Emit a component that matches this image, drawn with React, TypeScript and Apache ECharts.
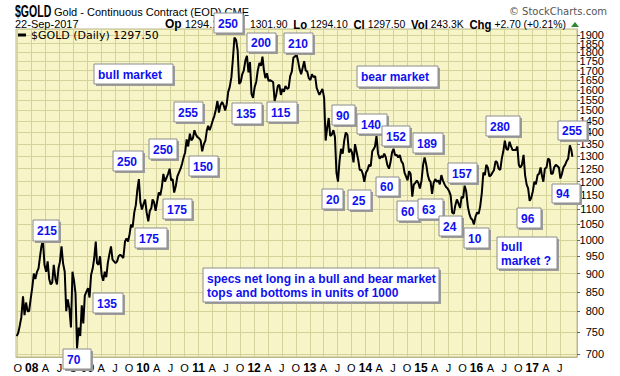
import { useEffect, useRef } from "react";
import * as echarts from "echarts";

// ---- DATA (gold continuous contract, sampled on the 5th, 15th and 25th of each month) ----
const SLOT_DAYS = [5, 15, 25];
const gold2007 = [740, 748, 765, 785, 838, 790, 822, 800, 800, 830]; // from Sep 25
const gold2008 = [862, 900, 885, 905, 915, 950, 980, 1000, 925, 905, 935, 885, 870, 875, 925, 885, 870, 915, 935, 980, 930, 905, 800, 830, 805, 760, 905, 880, 845, 712, 760, 740, 815, 770, 840, 850];
const gold2009 = [860, 835, 895, 915, 945, 995, 930, 925, 950, 895, 880, 905, 890, 930, 955, 980, 940, 935, 930, 935, 950, 955, 950, 945, 995, 1005, 995, 1018, 1050, 1040, 1090, 1115, 1170, 1210, 1125, 1100];
const gold2010 = [1120, 1135, 1090, 1060, 1095, 1105, 1135, 1125, 1095, 1130, 1160, 1150, 1180, 1230, 1200, 1215, 1230, 1250, 1205, 1210, 1160, 1185, 1220, 1235, 1250, 1270, 1295, 1315, 1370, 1340, 1395, 1365, 1375, 1410, 1390, 1380];
const gold2011 = [1375, 1365, 1320, 1350, 1365, 1410, 1430, 1410, 1430, 1455, 1475, 1505, 1545, 1490, 1525, 1540, 1525, 1500, 1530, 1590, 1615, 1665, 1765, 1885, 1870, 1810, 1630, 1640, 1680, 1700, 1755, 1780, 1690, 1745, 1580, 1560];
const gold2012 = [1615, 1640, 1700, 1740, 1725, 1775, 1705, 1660, 1685, 1645, 1650, 1645, 1640, 1545, 1575, 1620, 1625, 1575, 1605, 1590, 1620, 1605, 1610, 1670, 1695, 1770, 1775, 1790, 1755, 1710, 1680, 1715, 1750, 1700, 1695, 1660];
const gold2013 = [1650, 1680, 1665, 1670, 1610, 1590, 1575, 1590, 1605, 1560, 1365, 1420, 1465, 1385, 1390, 1410, 1380, 1235, 1200, 1280, 1330, 1310, 1365, 1400, 1390, 1315, 1330, 1315, 1275, 1350, 1315, 1285, 1245, 1245, 1230, 1200];
const gold2014 = [1235, 1245, 1265, 1260, 1320, 1330, 1340, 1385, 1310, 1290, 1300, 1295, 1310, 1295, 1265, 1250, 1275, 1315, 1330, 1305, 1305, 1295, 1305, 1280, 1270, 1235, 1220, 1205, 1240, 1230, 1145, 1190, 1195, 1205, 1195, 1175];
const gold2015 = [1205, 1265, 1295, 1265, 1225, 1205, 1200, 1155, 1195, 1210, 1200, 1205, 1190, 1225, 1205, 1190, 1180, 1175, 1165, 1150, 1090, 1085, 1115, 1135, 1120, 1105, 1145, 1140, 1185, 1165, 1110, 1085, 1070, 1065, 1050, 1075];
const gold2016 = [1090, 1085, 1110, 1160, 1235, 1225, 1265, 1255, 1220, 1225, 1235, 1245, 1280, 1275, 1250, 1245, 1290, 1320, 1365, 1330, 1325, 1360, 1340, 1325, 1325, 1325, 1340, 1265, 1255, 1265, 1305, 1225, 1190, 1175, 1130, 1140];
const gold2017 = [1165, 1200, 1190, 1225, 1230, 1255, 1225, 1200, 1250, 1255, 1290, 1285, 1230, 1230, 1255, 1265, 1260, 1255, 1212, 1230, 1255, 1265, 1280, 1290, 1345, 1325, 1297.5];
const lastDay = 22; // last close: 22-Sep-2017

const Y_MIN = 693;
const Y_MAX = 1936;
const yTickValues = [700, 750, 800, 850, 900, 950, 1000, 1050, 1100, 1150, 1200, 1250, 1300, 1350, 1400, 1450, 1500, 1550, 1600, 1650, 1700, 1750, 1800, 1850, 1900];
const monthLetters: Record<number, string> = { 3: "A", 6: "J", 9: "O" };

const annotations: [string, number, number, number, number][] = [
  ["250", 214, 13, 29, 20],
  ["200", 247, 33, 29, 19],
  ["210", 284, 33, 29, 20],
  ["bull market", 94, 64, 79, 20],
  ["255", 174, 102, 29, 20],
  ["135", 232, 103, 30, 21],
  ["115", 267, 102, 30, 20],
  ["250", 149, 139, 28, 20],
  ["250", 113, 151, 30, 20],
  ["150", 189, 156, 29, 20],
  ["bear market", 357, 66, 81, 21],
  ["90", 332, 105, 23, 20],
  ["140", 357, 114, 30, 20],
  ["152", 382, 126, 28, 20],
  ["189", 413, 133, 30, 20],
  ["280", 486, 116, 34, 20],
  ["255", 558, 121, 29, 19],
  ["157", 448, 163, 29, 20],
  ["60", 376, 177, 23, 19],
  ["20", 322, 189, 21, 20],
  ["25", 348, 190, 23, 20],
  ["60", 397, 201, 22, 20],
  ["63", 418, 199, 25, 20],
  ["24", 439, 216, 23, 20],
  ["10", 464, 228, 25, 20],
  ["96", 517, 208, 24, 20],
  ["94", 552, 184, 28, 19],
  ["bull\nmarket ?", 497, 237, 60, 32],
  ["specs net long in a bull and bear market\ntops and bottoms in units of 1000", 203, 268, 236, 34],
  ["215", 33, 220, 26, 21],
  ["175", 163, 199, 29, 20],
  ["175", 135, 228, 32, 20],
  ["135", 93, 293, 30, 20],
  ["70", 63, 349, 28, 20],
];

const quoteLeft = "{b|Op} 1294.10 {b|Hi}";
const quoteRight = "1301.90  {b|Lo} 1294.10  {b|Cl} 1297.50  {b|Vol} 243.3K  {b|Chg} +2.70 (+0.21%)";

const segments: [number, number, number, number[]][] = [
  [2007, 8, 2, gold2007],
  [2008, 0, 0, gold2008],
  [2009, 0, 0, gold2009],
  [2010, 0, 0, gold2010],
  [2011, 0, 0, gold2011],
  [2012, 0, 0, gold2012],
  [2013, 0, 0, gold2013],
  [2014, 0, 0, gold2014],
  [2015, 0, 0, gold2015],
  [2016, 0, 0, gold2016],
  [2017, 0, 0, gold2017],
];

function buildPoints(): [number, number][] {
  const pts: [number, number][] = [];
  for (const [year, m0, s0, arr] of segments) {
    let m = m0;
    let s = s0;
    for (const v of arr) {
      pts.push([Date.UTC(year, m, SLOT_DAYS[s]), v]);
      s++;
      if (s === 3) {
        s = 0;
        m++;
      }
    }
  }
  const last = pts[pts.length - 1];
  const d = new Date(last[0]);
  last[0] = Date.UTC(d.getUTCFullYear(), d.getUTCMonth(), lastDay);
  return pts;
}

function quarterTicks(): number[] {
  const out: number[] = [];
  let y = 2007;
  let m = 9;
  while (y < 2017 || (y === 2017 && m <= 6)) {
    out.push(Date.UTC(y, m, 1));
    m += 3;
    if (m >= 12) {
      m -= 12;
      y++;
    }
  }
  return out;
}

const FONT = '"Liberation Sans", Arial, sans-serif';
const BLUE = "#1010f0";

function annotationBox(a: [string, number, number, number, number]) {
  const [text, x, y, w, h] = a;
  return {
    type: "group",
    x,
    y,
    z: 100,
    children: [
      { type: "rect", shape: { x: 2, y: 2, width: w, height: h }, style: { fill: "#9c9c9c" }, z: 100 },
      { type: "rect", shape: { x: 0, y: 0, width: w, height: h }, style: { fill: "#ffffff", stroke: "#8c8c8c", lineWidth: 1 }, z: 101 },
      {
        type: "text",
        x: 4,
        y: h / 2 + 0.5,
        z: 102,
        style: { text, fill: BLUE, font: `bold 12px ${FONT}`, verticalAlign: "middle", align: "left", lineHeight: 14 },
      },
    ],
  };
}

export default function App() {
  const ref = useRef<HTMLDivElement>(null);
  useEffect(() => {
    if (!ref.current) return;
    const chart = echarts.init(ref.current, null, { renderer: "svg" });
    const points = buildPoints();
    const qt = quarterTicks();
    const gridColor = "#d5d39c";
    const quoteRich = { b: { fontWeight: "bold", fontSize: 12, fontFamily: FONT, fill: "#000" } };
    // an extra, unlabeled value at the axis max so that the min/max-label overlap rule never hides 1850/1900
    const yCustom = [...yTickValues, Y_MAX];
    chart.setOption({
      animation: false,
      backgroundColor: "#ffffff",
      grid: {
        left: 16,
        right: 43,
        top: 29,
        bottom: 19,
        show: true,
        backgroundColor: "#f7f5c8",
        borderColor: "#b9b78c",
        borderWidth: 1,
      },
      xAxis: {
        type: "value",
        min: Date.UTC(2007, 8, 20),
        max: Date.UTC(2017, 9, 22),
        axisLine: { show: true, lineStyle: { color: "#b9b78c" } },
        axisTick: { show: false, customValues: qt },
        axisLabel: {
          customValues: qt,
          margin: 5,
          formatter: (v: number) => {
            const d = new Date(v);
            const m = d.getUTCMonth();
            if (m === 0) return "{yr|" + String(d.getUTCFullYear() % 100).padStart(2, "0") + "}";
            return "{mo|" + monthLetters[m] + "}";
          },
          rich: {
            yr: { fontWeight: "bold", fontSize: 12, fontFamily: FONT, color: "#000" },
            mo: { fontSize: 11, fontFamily: FONT, color: "#000" },
          },
        },
        splitLine: { show: true, lineStyle: { color: gridColor, width: 1 } },
      },
      yAxis: {
        type: "log",
        logBase: 10,
        min: Y_MIN,
        max: Y_MAX,
        position: "right",
        axisLine: { show: true, lineStyle: { color: "#b9b78c" } },
        axisTick: { show: true, length: 3, inside: false, customValues: yCustom, lineStyle: { color: "#666" } },
        axisLabel: {
          customValues: yCustom,
          showMinLabel: true,
          showMaxLabel: false,
          hideOverlap: false,
          align: "right",
          margin: 27,
          fontSize: 11,
          lineHeight: 8,
          fontFamily: FONT,
          color: "#000",
          formatter: (v: number) => {
            const r = Math.round(v);
            return yTickValues.indexOf(r) >= 0 ? String(r) : "";
          },
        },
        splitLine: { show: true, lineStyle: { color: gridColor, width: 1 } },
      },
      series: [
        {
          type: "line",
          data: points,
          symbol: "none",
          showSymbol: false,
          silent: true,
          lineStyle: { color: "#000000", width: 2 },
        },
      ],
      graphic: [
        {
          type: "text",
          x: 15,
          y: 11,
          scaleX: 0.62,
          z: 50,
          style: { text: "$GOLD", font: `bold 17px ${FONT}`, fill: "#000", verticalAlign: "middle" },
        },
        {
          type: "text",
          x: 54,
          y: 12,
          z: 50,
          style: { text: "Gold - Continuous Contract (EOD) CME", font: `11px ${FONT}`, fill: "#000", verticalAlign: "middle" },
        },
        {
          type: "text",
          x: 607,
          y: 11,
          z: 50,
          style: { text: "© StockCharts.com", font: `10px "DejaVu Sans", sans-serif`, fill: "#555", align: "right", verticalAlign: "middle" },
        },
        {
          type: "text",
          x: 15,
          y: 24,
          z: 50,
          style: { text: "22-Sep-2017", font: `11px ${FONT}`, fill: "#000", verticalAlign: "middle" },
        },
        {
          type: "text",
          x: 165,
          y: 24,
          z: 50,
          style: { text: quoteLeft, font: `11px ${FONT}`, fill: "#000", verticalAlign: "middle", rich: quoteRich },
        },
        {
          type: "text",
          x: 566,
          y: 24,
          scaleX: 0.945,
          z: 50,
          style: { text: quoteRight, font: `11px ${FONT}`, fill: "#000", align: "right", verticalAlign: "middle", rich: quoteRich },
        },
        {
          type: "polygon",
          z: 50,
          shape: { points: [[571, 27], [579, 27], [575, 22]] },
          style: { fill: "#2a8a2a" },
        },
        {
          type: "line",
          z: 50,
          shape: { x1: 18, y1: 35, x2: 26, y2: 35 },
          style: { stroke: "#000", lineWidth: 3 },
        },
        {
          type: "text",
          x: 31,
          y: 35,
          z: 50,
          style: { text: "$GOLD (Daily) 1297.50", font: `11px "DejaVu Sans", sans-serif`, fill: "#000", verticalAlign: "middle" },
        },
        ...annotations.map(annotationBox),
      ],
    });
    return () => chart.dispose();
  }, []);
  return <div ref={ref} style={{ width: 620, height: 376, position: "absolute", left: 0, top: 0 }} />;
}
